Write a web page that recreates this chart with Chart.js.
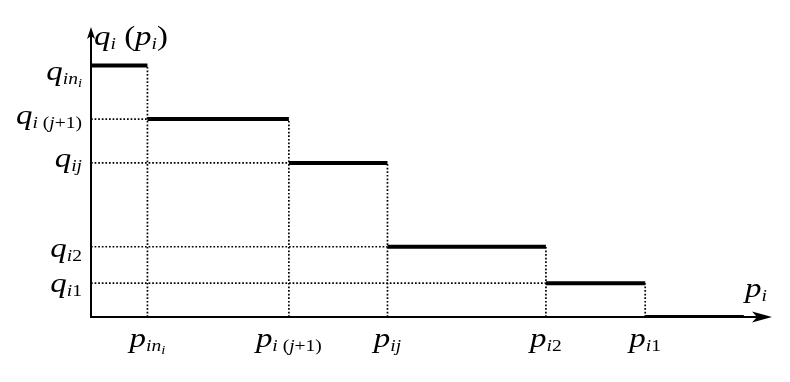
<!DOCTYPE html>
<html>
<head>
<meta charset="utf-8">
<script src="https://cdn.jsdelivr.net/npm/chart.js@4/dist/chart.umd.min.js"></script>
<style>
  html, body { margin: 0; padding: 0; background: #fff; }
  #wrap { width: 790px; height: 382px; }
  .fl { position: absolute; left: -999px; top: 0; font: italic 20px "Liberation Serif"; }
</style>
</head>
<body>
<span class="fl">qpij (j+1) 12</span><span class="fl" style="font-style:normal">(+1)2</span>
<div id="wrap"><canvas id="c" width="790" height="382"></canvas></div>
<script>
// ---- data (abstract units) ----
const priceBreaks = [8.3, 29.1, 43.6, 66.9, 81.5];      // p_in_i, p_i(j+1), p_ij, p_i2, p_i1
const priceEnd = 96.0;                                   // end of last (zero) step
const quantityLevels = [87.0, 68.5, 53.3, 24.3, 11.7, 0]; // q_in_i, q_i(j+1), q_ij, q_i2, q_i1, 0
const xTickLabels = ['p_{in_{i}}', 'p_{i (j+1)}', 'p_{ij}', 'p_{i2}', 'p_{i1}'];
const yTickLabels = ['q_{in_{i}}', 'q_{i (j+1)}', 'q_{ij}', 'q_{i2}', 'q_{i1}'];
const yAxisTitle = 'q_{i} (p_{i})';
const xAxisTitle = 'p_{i}';

// ---- label layout (cosmetic) ----
const yLabelNudge = [14, 5, 4, 10, 9];

// ---- build datasets ----
const datasets = [];
for (let k = 0; k < quantityLevels.length; k++) {
  const x0 = k === 0 ? 0 : priceBreaks[k - 1];
  const x1 = k < priceBreaks.length ? priceBreaks[k] : priceEnd;
  datasets.push({
    data: [{x: x0, y: quantityLevels[k]}, {x: x1, y: quantityLevels[k]}],
    borderColor: '#000', borderWidth: 4, borderCapStyle: 'butt',
    pointRadius: 0, showLine: true, order: 0
  });
}
for (let k = 0; k < priceBreaks.length; k++) {
  datasets.push({
    data: [{x: priceBreaks[k], y: 0}, {x: priceBreaks[k], y: quantityLevels[k]}],
    borderColor: '#000', borderWidth: 1.7, borderDash: [1.7, 1.9],
    pointRadius: 0, showLine: true, order: 1
  });
}
for (let k = 1; k < quantityLevels.length - 1; k++) {
  datasets.push({
    data: [{x: 0, y: quantityLevels[k]}, {x: priceBreaks[k - 1], y: quantityLevels[k]}],
    borderColor: '#000', borderWidth: 1.7, borderDash: [1.7, 1.9],
    pointRadius: 0, showLine: true, order: 1
  });
}

// ---- tiny sub-script text renderer ----
function parseTex(s) {
  const runs = []; let i = 0;
  function group(level) {
    while (i < s.length) {
      const c = s[i];
      if (c === '}') { i++; return; }
      if (c === '_') {
        i++;
        if (s[i] === '{') { i++; group(level + 1); }
        else { runs.push({t: s[i], lv: level + 1}); i++; }
        continue;
      }
      runs.push({t: c, lv: level}); i++;
    }
  }
  group(0);
  return runs;
}
const SIZES = [27, 16, 12];
const DY = [0, 4, 7];
const SX = 1.22;
const FAMILY = '"Liberation Serif", "Times New Roman", Times, serif';
function fontFor(r) {
  const it = /[a-z]/i.test(r.t) ? 'italic ' : '';
  return it + SIZES[Math.min(r.lv, 2)] + 'px ' + FAMILY;
}
function texWidth(ctx, s) {
  let w = 0;
  for (const r of parseTex(s)) { ctx.font = fontFor(r); w += ctx.measureText(r.t).width; }
  return w * SX;
}
function drawTex(ctx, s, x, y, align) {
  const w = texWidth(ctx, s);
  let sx = x;
  if (align === 'right') sx = x - w;
  else if (align === 'center') sx = x - w / 2;
  ctx.save();
  ctx.translate(sx, y);
  ctx.scale(SX, 1);
  ctx.fillStyle = '#000';
  ctx.textBaseline = 'alphabetic';
  ctx.textAlign = 'left';
  let cx = 0;
  for (const r of parseTex(s)) {
    ctx.font = fontFor(r);
    ctx.fillText(r.t, cx, DY[Math.min(r.lv, 2)]);
    cx += ctx.measureText(r.t).width;
  }
  ctx.restore();
}

const axesPlugin = {
  id: 'axesArrows',
  beforeDatasetsDraw(chart) {
    const ctx = chart.ctx;
    const xs = chart.scales.x, ys = chart.scales.y;
    const ox = xs.getPixelForValue(0), oy = ys.getPixelForValue(0);
    const xr = xs.getPixelForValue(100), yt = ys.getPixelForValue(100);
    ctx.save();
    ctx.strokeStyle = '#000';
    ctx.lineWidth = 2;
    ctx.beginPath();
    ctx.moveTo(ox, oy + 1); ctx.lineTo(ox, yt + 6);
    ctx.moveTo(ox - 1, oy); ctx.lineTo(xr - 10, oy);
    ctx.stroke();
    ctx.fillStyle = '#000';
    ctx.beginPath();
    ctx.moveTo(ox, yt - 1);
    ctx.lineTo(ox + 4, yt + 11);
    ctx.lineTo(ox, yt + 8);
    ctx.lineTo(ox - 4, yt + 11);
    ctx.closePath(); ctx.fill();
    ctx.beginPath();
    ctx.moveTo(xr + 1, oy);
    ctx.lineTo(xr - 19, oy - 5.5);
    ctx.lineTo(xr - 14, oy);
    ctx.lineTo(xr - 19, oy + 5.5);
    ctx.closePath(); ctx.fill();
    ctx.restore();
  },
  afterDatasetsDraw(chart) {
    const ctx = chart.ctx;
    const xs = chart.scales.x, ys = chart.scales.y;
    const oy = ys.getPixelForValue(0);
    const ox = xs.getPixelForValue(0);
    yTickLabels.forEach((lab, k) => {
      drawTex(ctx, lab, ox - 9, ys.getPixelForValue(quantityLevels[k]) + yLabelNudge[k], 'right');
    });
    xTickLabels.forEach((lab, k) => {
      drawTex(ctx, lab, xs.getPixelForValue(priceBreaks[k]), oy + 30, 'center');
    });
    drawTex(ctx, yAxisTitle, ox + 3, ys.getPixelForValue(100) + 17, 'left');
    drawTex(ctx, xAxisTitle, xs.getPixelForValue(100) - 26, oy - 20, 'left');
  }
};

function build() {
  new Chart(document.getElementById('c'), {
    type: 'scatter',
    data: { datasets },
    options: {
      responsive: false,
      animation: false,
      devicePixelRatio: 1,
      layout: { padding: { left: 91, right: 19, top: 28, bottom: 65 } },
      plugins: { legend: { display: false }, tooltip: { enabled: false } },
      scales: {
        x: { type: 'linear', min: 0, max: 100, display: false },
        y: { type: 'linear', min: 0, max: 100, display: false }
      }
    },
    plugins: [axesPlugin]
  });
}
Promise.all([
  document.fonts.load('italic 27px "Liberation Serif"'),
  document.fonts.load('27px "Liberation Serif"')
]).then(build, build);
</script>
</body>
</html>
